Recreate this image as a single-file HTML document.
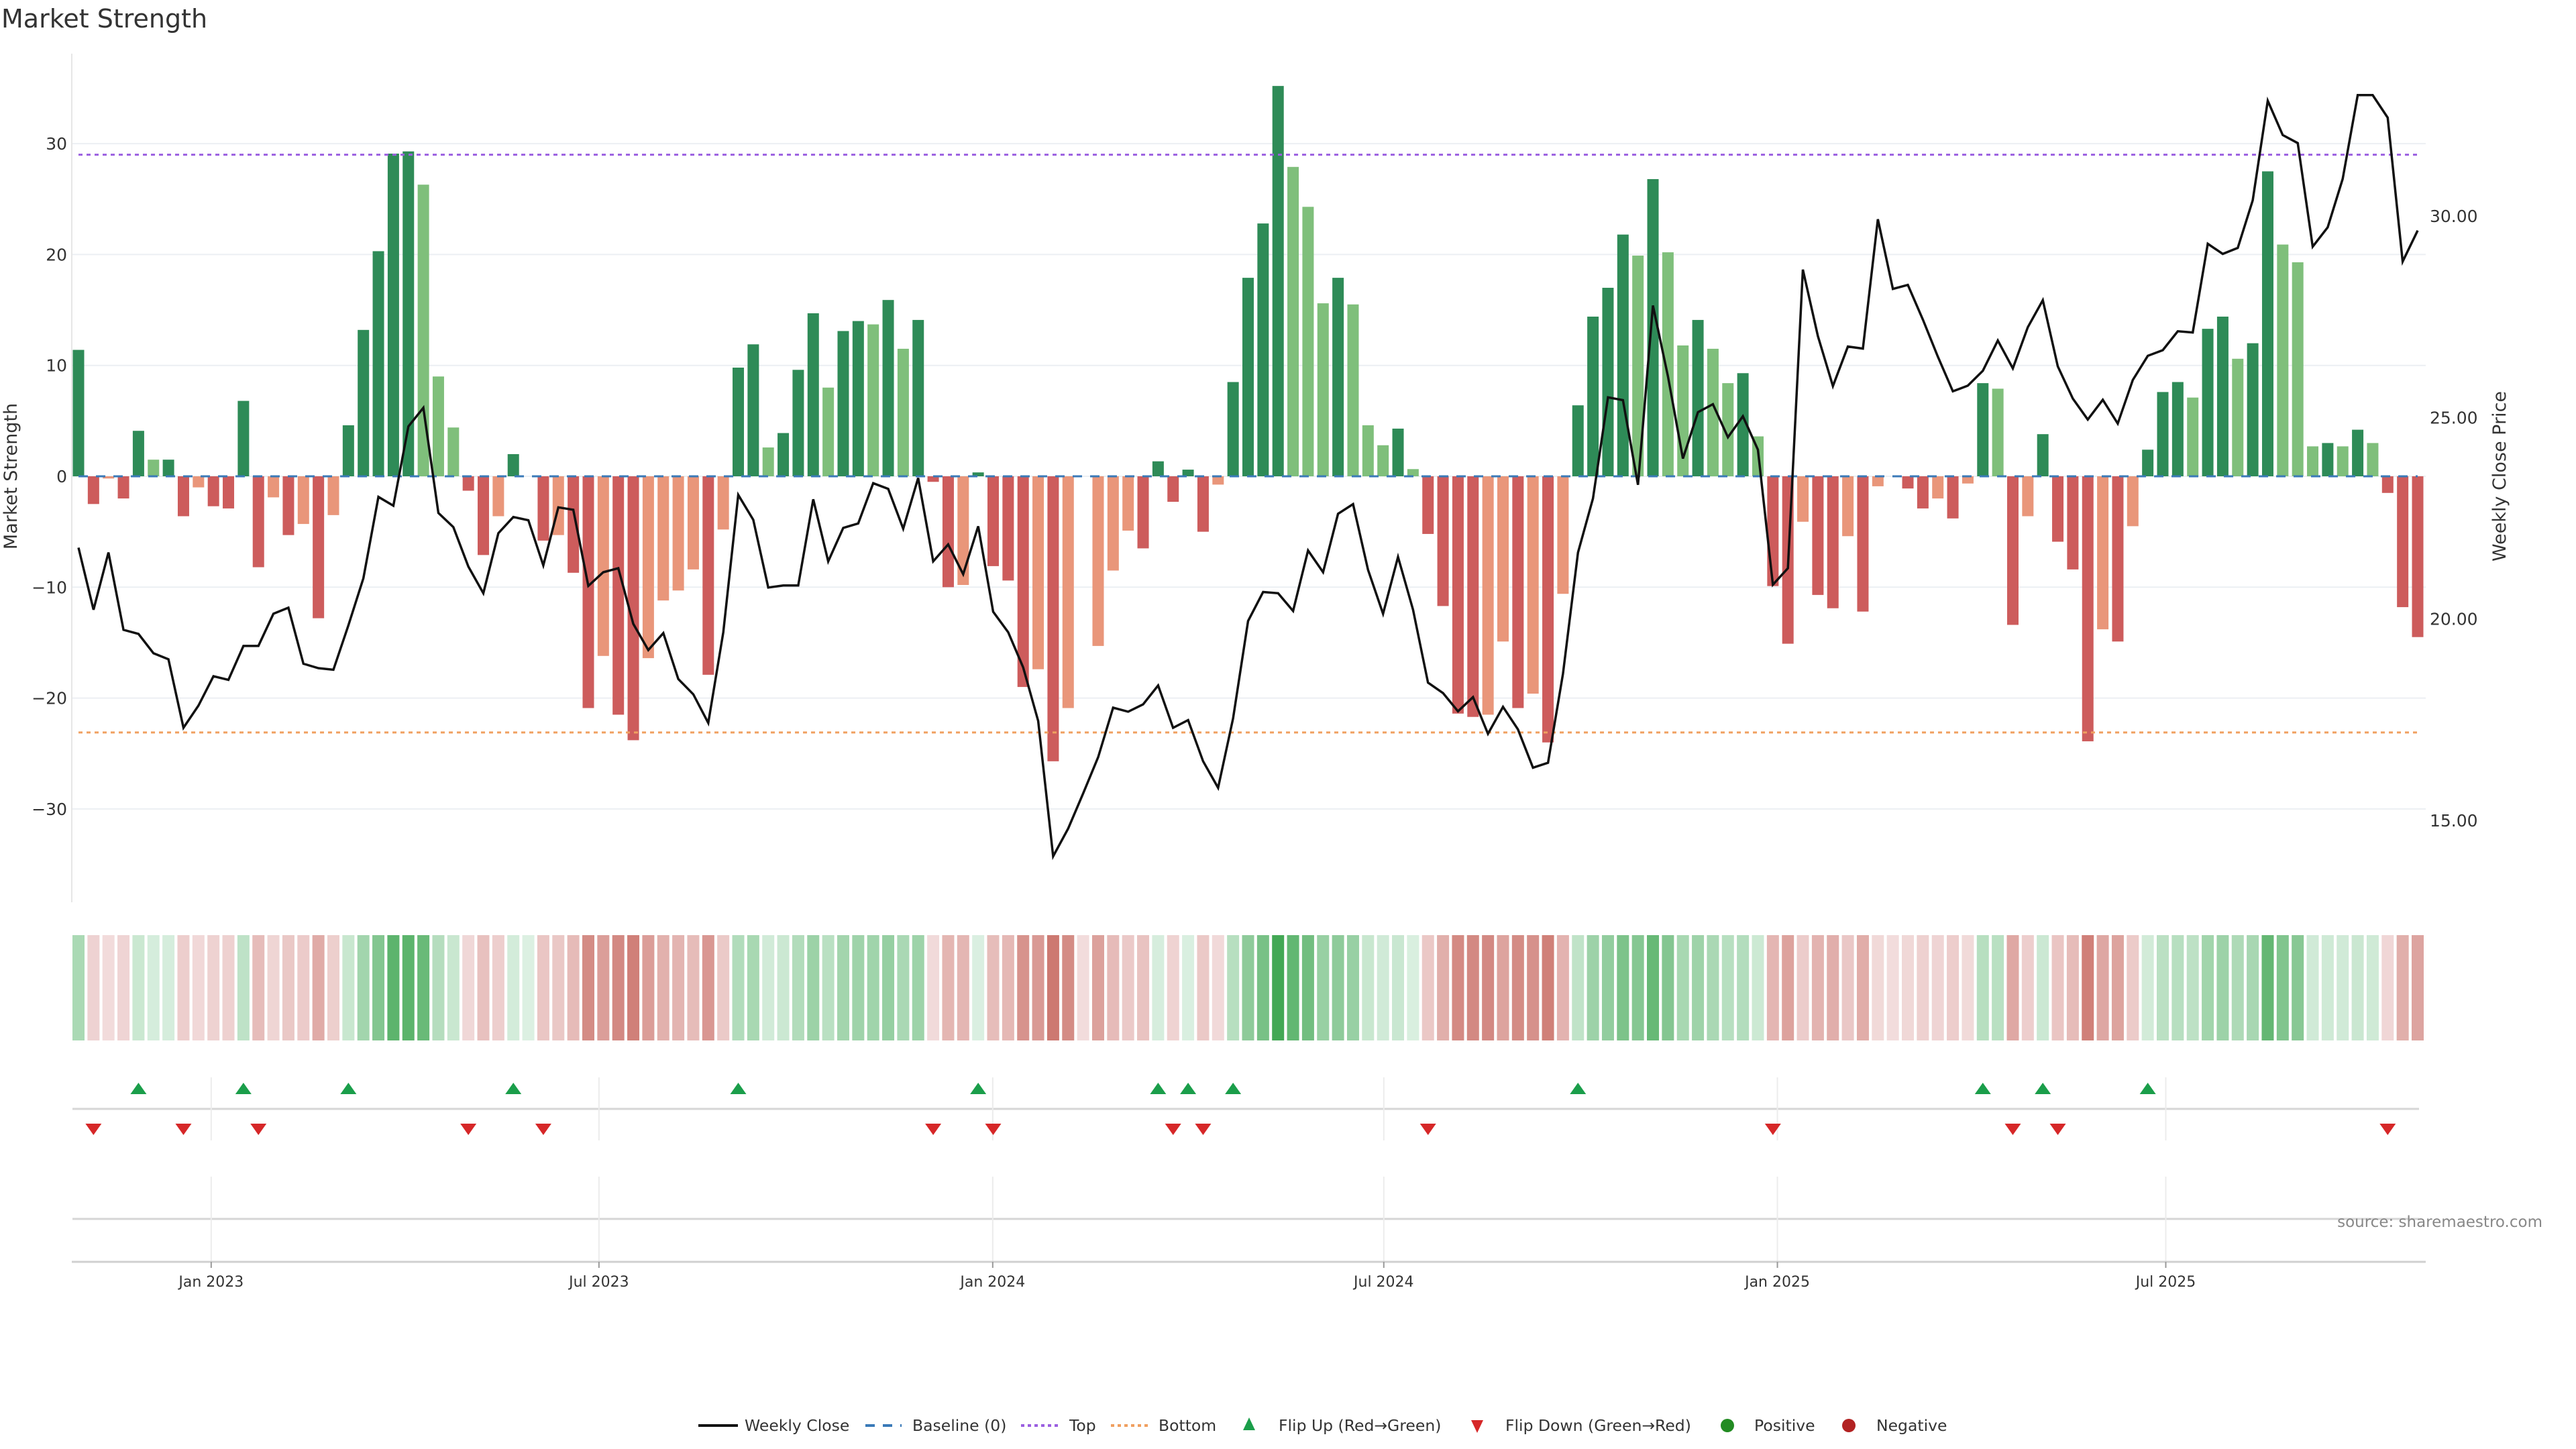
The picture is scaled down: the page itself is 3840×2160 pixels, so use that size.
<!DOCTYPE html>
<html><head><meta charset="utf-8"><style>
html,body{margin:0;padding:0;background:#fff;}
svg{display:block;font-family:"DejaVu Sans","Liberation Sans",sans-serif;}
</style></head><body>
<svg id="chart" width="3840" height="2160" viewBox="0 0 3840 2160" xmlns="http://www.w3.org/2000/svg">
<rect width="3840" height="2160" fill="#fff"/>
<text x="2" y="41" font-size="38" fill="#333">Market Strength</text>
<g id="grid"></g>
<g id="bars"></g>
<g id="refs"></g>
<g id="price"></g>
<g id="heat"></g>
<g id="markers"></g>
<g id="axes"></g>
<text transform="translate(25,710) rotate(-90)" text-anchor="middle" font-size="27" fill="#333">Market Strength</text>
<text transform="translate(3735,710) rotate(-90)" text-anchor="middle" font-size="27" fill="#333">Weekly Close Price</text>
<text x="3790" y="1829" text-anchor="end" font-size="23" fill="#888">source: sharemaestro.com</text>
<g id="legend">
  <line x1="1041" y1="2125" x2="1100" y2="2125" stroke="#111" stroke-width="4"/>
  <text x="1110" y="2133" font-size="23.5" fill="#333">Weekly Close</text>
  <line x1="1290" y1="2125" x2="1344" y2="2125" stroke="#3a7ab8" stroke-width="4" stroke-dasharray="14,12"/>
  <text x="1360" y="2133" font-size="23.5" fill="#333">Baseline (0)</text>
  <line x1="1522" y1="2125" x2="1577" y2="2125" stroke="#9b5fe0" stroke-width="4" stroke-dasharray="5,5"/>
  <text x="1594" y="2133" font-size="23.5" fill="#333">Top</text>
  <line x1="1656" y1="2125" x2="1712" y2="2125" stroke="#f0a060" stroke-width="4" stroke-dasharray="5,5"/>
  <text x="1727" y="2133" font-size="23.5" fill="#333">Bottom</text>
  <polygon points="1862,2113 1871,2132 1853,2132" fill="#1a9e4a"/>
  <text x="1906" y="2133" font-size="23.5" fill="#333">Flip Up (Red→Green)</text>
  <polygon points="2193,2117 2211,2117 2202,2136" fill="#d62728"/>
  <text x="2244" y="2133" font-size="23.5" fill="#333">Flip Down (Green→Red)</text>
  <circle cx="2575" cy="2125" r="10" fill="#228b22"/>
  <text x="2615" y="2133" font-size="23.5" fill="#333">Positive</text>
  <circle cx="2756" cy="2125" r="10" fill="#b22222"/>
  <text x="2797" y="2133" font-size="23.5" fill="#333">Negative</text>
</g>
</svg>
<script>
const strength = [11.4,-2.5,-0.2,-2.0,4.1,1.5,1.5,-3.6,-1.0,-2.7,
-2.9,6.8,-8.2,-1.9,-5.3,-4.3,-12.8,-3.5,4.6,13.2,
20.3,29.1,29.3,26.3,9.0,4.4,-1.3,-7.1,-3.6,2.0,
0,-5.8,-5.3,-8.7,-20.9,-16.2,-21.5,-23.8,-16.4,-11.2,
-10.3,-8.4,-17.9,-4.8,9.8,11.9,2.6,3.9,9.6,14.7,
8.0,13.1,14.0,13.7,15.9,11.5,14.1,-0.5,-10.0,-9.8,
0.35,-8.1,-9.4,-19.0,-17.4,-25.7,-20.9,0,-15.3,-8.5,
-4.9,-6.5,1.35,-2.3,0.6,-5.0,-0.75,8.5,17.9,22.8,
35.2,27.9,24.3,15.6,17.9,15.5,4.6,2.8,4.3,0.65,
-5.2,-11.7,-21.4,-21.7,-21.5,-14.9,-20.9,-19.6,-24.0,-10.6,
6.4,14.4,17.0,21.8,19.9,26.8,20.2,11.8,14.1,11.5,
8.4,9.3,3.6,-9.9,-15.1,-4.1,-10.7,-11.9,-5.4,-12.2,
-0.9,0,-1.1,-2.9,-2.0,-3.8,-0.65,8.4,7.9,-13.4,
-3.6,3.8,-5.9,-8.4,-23.9,-13.8,-14.9,-4.5,2.4,7.6,
8.5,7.1,13.3,14.4,10.6,12.0,27.5,20.9,19.3,2.7,
3.0,2.7,4.2,3.0,-1.5,-11.8,-14.5];
const closePrice = [21.77,20.23,21.65,19.73,19.63,19.15,19.00,17.30,17.85,18.58,
18.49,19.33,19.33,20.13,20.28,18.89,18.78,18.74,19.84,21.01,
23.03,22.81,24.78,25.24,22.63,22.28,21.30,20.64,22.13,22.53,
22.45,21.33,22.77,22.71,20.82,21.16,21.26,19.88,19.23,19.65,
18.51,18.13,17.42,19.67,23.08,22.46,20.78,20.83,20.83,22.97,
21.43,22.26,22.37,23.37,23.23,22.24,23.50,21.43,21.85,21.11,
22.30,20.18,19.67,18.80,17.47,14.11,14.80,15.67,16.57,17.80,
17.70,17.88,18.35,17.30,17.49,16.47,15.81,17.53,19.95,20.67,
20.64,20.20,21.70,21.16,22.61,22.85,21.22,20.13,21.54,20.23,
18.42,18.16,17.71,18.06,17.15,17.82,17.26,16.31,16.43,18.64,
21.65,22.99,25.50,25.43,23.33,27.78,26.02,23.98,25.13,25.33,
24.51,25.03,24.20,20.85,21.26,28.67,27.02,25.78,26.76,26.71,
29.92,28.19,28.29,27.43,26.51,25.65,25.79,26.16,26.91,26.22,
27.24,27.91,26.27,25.47,24.95,25.44,24.85,25.93,26.53,26.67,
27.14,27.11,29.31,29.06,29.21,30.39,32.86,32.01,31.81,29.24,
29.72,30.92,33.00,33.00,32.44,28.87,29.64];
const strengthTicks = [30,20,10,0,-10,-20,-30];
const priceTicks = [30,25,20,15];
const dateTickLabels = ["Jan 2023","Jul 2023","Jan 2024","Jul 2024","Jan 2025","Jul 2025"];
const dateTickWeeks = [8.85,34.71,60.97,87.05,113.3,139.2];
const topLevel = [29.0];
const bottomLevel = [-23.1];

const NS="http://www.w3.org/2000/svg";
function mk(tag, attrs, parent){const e=document.createElementNS(NS,tag);for(const k in attrs)e.setAttribute(k,attrs[k]);parent.appendChild(e);return e;}
const X0=117, X1=3604;
const xScale = i => X0 + i*(X1-X0)/(strength.length-1);
const yS = v => 710 - v*16.53;
const yP = p => 322 + (30-p)*60.07;
const G=id=>document.getElementById(id);

strengthTicks.forEach(t=>{
  const l=mk('line',{x1:107,x2:3616,y1:yS(t),y2:yS(t),stroke:'#eceff3','stroke-width':2},G('grid'));
  
  
  const tx=mk('text',{x:100,y:yS(t)+9,'text-anchor':'end','font-size':25,fill:'#333'},G('axes'));
  tx.textContent = t<0 ? '\u2212'+Math.abs(t) : String(t);
  
  
});
mk('line',{x1:107,x2:107,y1:80,y2:1345,stroke:'#e6e6e6','stroke-width':2},G('grid'));
priceTicks.forEach(p=>{
  const tx=mk('text',{x:3622,y:yP(p)+9,'font-size':25,fill:'#333'},G('axes'));
  tx.textContent=p.toFixed(2);
  
  
});

let prevNZ=0;
strength.forEach((v,i)=>{
  let col;
  if(v>=0){col=(prevNZ<=0||v>=prevNZ)?'#2e8b57':'#7fbf7b';}
  else{col=(prevNZ>=0||v<=prevNZ)?'#cd5c5c':'#e9967a';}
  if(v!==0){
    const y=Math.min(yS(v),yS(0)),h=Math.abs(yS(v)-yS(0));
    const r=mk('rect',{x:xScale(i)-8.5,y:y,width:17,height:Math.max(h,0.5),fill:col},G('bars'));
    
    
  }
  if(v!==0)prevNZ=v;
});

const bl=mk('line',{x1:X0,x2:X1,y1:yS(0),y2:yS(0),stroke:'#3a7ab8','stroke-width':3,'stroke-dasharray':'14,12'},G('refs'));


const tl=mk('line',{x1:X0,x2:X1,y1:yS(topLevel[0]),y2:yS(topLevel[0]),stroke:'#9b5fe0','stroke-width':3,'stroke-dasharray':'6,6'},G('refs'));


const btl=mk('line',{x1:X0,x2:X1,y1:yS(bottomLevel[0]),y2:yS(bottomLevel[0]),stroke:'#f0a060','stroke-width':3,'stroke-dasharray':'6,6'},G('refs'));



const pts=closePrice.map((p,i)=>xScale(i).toFixed(1)+','+yP(p).toFixed(1)).join(' ');
const pl=mk('polyline',{points:pts,fill:'none',stroke:'#111','stroke-width':3.5,'stroke-linejoin':'miter'},G('price'));



let pSign=1;
strength.forEach((v,i)=>{
  if(v!==0)pSign=v>0?1:-1;
  let c;
  if(pSign>0){const t=Math.min(Math.abs(v)/35,1);c=[220-153*t,240-72*t,226-141*t];}
  else{const t=Math.min(Math.abs(v)/26,1);c=[242-37*t,220-100*t,220-108*t];}
  const r=mk('rect',{x:xScale(i)-9,y:1394,width:18,height:157,fill:'rgb('+c.map(Math.round).join(',')+')'},G('heat'));
  
  
});

mk('line',{x1:108,x2:3606,y1:1653,y2:1653,stroke:'#d6d6d6','stroke-width':3},G('grid'));
mk('line',{x1:108,x2:3606,y1:1817,y2:1817,stroke:'#d6d6d6','stroke-width':3},G('grid'));
mk('line',{x1:107,x2:3616,y1:1881,y2:1881,stroke:'#d0d0d0','stroke-width':3},G('axes'));
dateTickWeeks.forEach((w,k)=>{
  const x=xScale(w);
  mk('line',{x1:x,x2:x,y1:1606,y2:1700,stroke:'#ececec','stroke-width':2},G('grid'));
  mk('line',{x1:x,x2:x,y1:1754,y2:1881,stroke:'#ececec','stroke-width':2},G('grid'));
  mk('line',{x1:x,x2:x,y1:1881,y2:1890,stroke:'#999','stroke-width':2},G('axes'));
  const tx=mk('text',{x:x,y:1918,'text-anchor':'middle','font-size':22,fill:'#333'},G('axes'));
  tx.textContent=dateTickLabels[k];
  
  
});
let lastSign=0;
strength.forEach((v,i)=>{
  if(v===0)return;
  const s=v>0?1:-1;
  if(lastSign!==0&&s!==lastSign){
    const x=xScale(i);
    if(s>0){
      const t=mk('polygon',{points:`${x},1614 ${x+12},1631 ${x-12},1631`,fill:'#1a9e4a'},G('markers'));
      
      
    }else{
      const t=mk('polygon',{points:`${x-12},1675 ${x+12},1675 ${x},1692`,fill:'#d62728'},G('markers'));
      
      
    }
  }
  lastSign=s;
});
</script>
</body></html>
